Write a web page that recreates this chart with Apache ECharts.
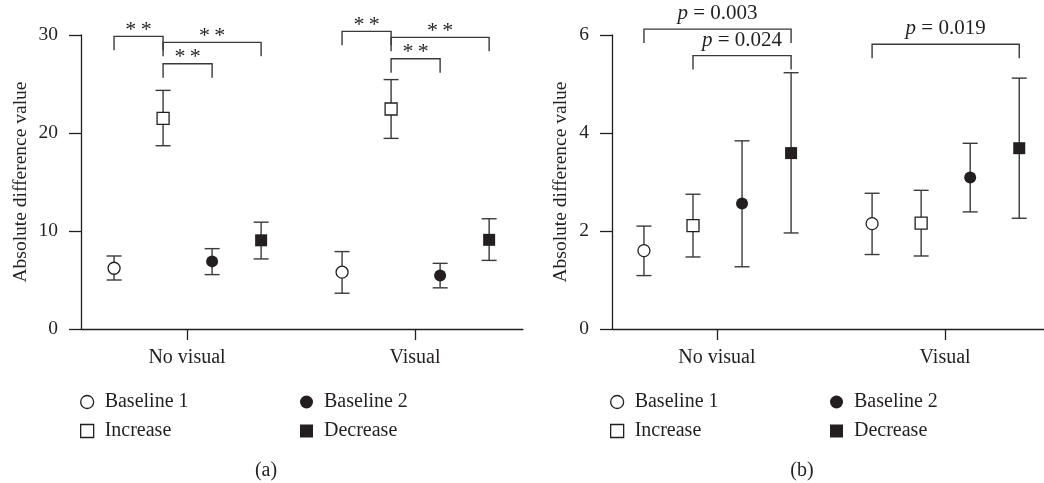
<!DOCTYPE html>
<html>
<head>
<meta charset="utf-8">
<title>Absolute difference value</title>
<script src="https://cdn.jsdelivr.net/npm/echarts@6/dist/echarts.min.js"></script>
<style>html, body { margin: 0; padding: 0; background: #fff; }</style>
</head>
<body>
<div id="main" style="width:1044px;height:483px;"></div>
<script>
// categories and series
var groups = ['No visual', 'Visual']
var seriesNames = ['Baseline 1', 'Increase', 'Baseline 2', 'Decrease']

// panel (a): [mean, lower, upper] for No visual, Visual
var aBaseline1 = [[6.2, 5.0, 7.45], [5.8, 3.65, 7.9]]
var aIncrease = [[21.5, 18.7, 24.35], [22.45, 19.45, 25.45]]
var aBaseline2 = [[6.9, 5.55, 8.2], [5.45, 4.2, 6.7]]
var aDecrease = [[9.05, 7.15, 10.9], [9.1, 7.0, 11.25]]

// panel (b)
var bBaseline1 = [[1.6, 1.09, 2.1], [2.15, 1.52, 2.77]]
var bIncrease = [[2.11, 1.47, 2.75], [2.16, 1.49, 2.83]]
var bBaseline2 = [[2.56, 1.27, 3.84], [3.09, 2.39, 3.79]]
var bDecrease = [[3.59, 1.96, 5.23], [3.69, 2.26, 5.12]]

// significance brackets: [group, from series, to series, bracket top, label]
var aSig = [
    [0, 0, 1, 29.86, '**'], [0, 1, 3, 29.25, '**'], [0, 1, 2, 27.07, '**'],
    [1, 0, 1, 30.37, '**'], [1, 1, 3, 29.76, '**'], [1, 1, 2, 27.58, '**']
]
var bSig = [
    [0, 0, 3, 6.12, 'p = 0.003'], [0, 1, 3, 5.58, 'p = 0.024'], [1, 0, 3, 5.81, 'p = 0.019']
]

// y axis ticks
var aTicks = [0, 10, 20, 30]
var bTicks = [0, 2, 4, 6]

var INK = '#231f20'
var LINE = '#3a3a3a'
var FONT = 'Liberation Serif'
var FS = 20
// horizontal place of each series inside a group
var offsets = [-0.64, -0.21, 0.22, 0.65]
var symbols = ['circle', 'rect', 'circle', 'rect']
var filled = [false, false, true, true]

var xPos = function(g, s) {
    return g * 2 + 1 + offsets[s]
}

var markerStyle = function(s) {
    if (filled[s]) {
        return { color: INK, opacity: 1 }
    }
    return { color: '#fff', borderColor: INK, borderWidth: 1.3, opacity: 1 }
}

var errorItem = function(params, api) {
    var x = api.value(0)
    var p1 = api.coord([x, api.value(1)])
    var p2 = api.coord([x, api.value(2)])
    var cap = 7.5
    var st = { stroke: LINE, lineWidth: 1.4 }
    return {
        type: 'group',
        children: [
            { type: 'line', shape: { x1: p1[0], y1: p1[1], x2: p2[0], y2: p2[1] }, style: st },
            { type: 'line', shape: { x1: p1[0] - cap, y1: p1[1], x2: p1[0] + cap, y2: p1[1] }, style: st },
            { type: 'line', shape: { x1: p2[0] - cap, y1: p2[1], x2: p2[0] + cap, y2: p2[1] }, style: st }
        ]
    }
}

var bracketRenderer = function(sig, textGap, fontSize) {
    return function(params, api) {
        var a = api.coord([api.value(0), api.value(2)])
        var b = api.coord([api.value(1), api.value(2)])
        var leg = 14
        var label = sig[params.dataIndex][4]
        var text
        if (label.indexOf('p') === 0) {
            text = '{i|p}' + label.slice(1)
        } else {
            // stars drawn with a thin gap, as in the figure
            text = label.split('').join('\u2009')
        }
        return {
            type: 'group',
            children: [
                {
                    type: 'polyline',
                    shape: { points: [[a[0], a[1] + leg], [a[0], a[1]], [b[0], b[1]], [b[0], b[1] + leg]] },
                    style: { stroke: LINE, fill: 'none', lineWidth: 1.4 }
                },
                {
                    type: 'text',
                    x: (a[0] + b[0]) / 2,
                    y: a[1] - textGap,
                    style: {
                        text: text,
                        fill: INK,
                        fontFamily: FONT,
                        fontSize: fontSize,
                        align: 'center',
                        verticalAlign: 'bottom',
                        rich: { i: { fontStyle: 'italic', fontFamily: FONT, fontSize: fontSize, fill: INK } }
                    }
                }
            ]
        }
    }
}

var buildSeries = function(panel, lists, sig, textGap, fontSize) {
    var out = []
    var bars = []
    lists.forEach(function(list, s) {
        list.forEach(function(d, g) {
            bars.push([xPos(g, s), d[1], d[2]])
        })
    })
    out.push({
        type: 'custom',
        xAxisIndex: panel,
        yAxisIndex: panel,
        renderItem: errorItem,
        encode: { x: 0, y: [1, 2] },
        data: bars,
        z: 1,
        silent: true
    })
    lists.forEach(function(list, s) {
        out.push({
            name: seriesNames[s],
            type: 'scatter',
            xAxisIndex: panel,
            yAxisIndex: panel,
            symbol: symbols[s],
            symbolSize: 12,
            itemStyle: markerStyle(s),
            z: 3,
            data: list.map(function(d, g) { return [xPos(g, s), d[0]] })
        })
    })
    out.push({
        type: 'custom',
        xAxisIndex: panel,
        yAxisIndex: panel,
        clip: false,
        renderItem: bracketRenderer(sig, textGap, fontSize),
        encode: { x: [0, 1], y: 2 },
        data: sig.map(function(r) { return [xPos(r[0], r[1]), xPos(r[0], r[2]), r[3]] }),
        z: 2,
        silent: true
    })
    return out
}

var makeX = function(index, min, max) {
    return {
        type: 'value',
        gridIndex: index,
        min: min,
        max: max,
        splitLine: { show: false },
        axisLine: { lineStyle: { color: INK, width: 1.3 } },
        axisTick: { customValues: [1, 3], length: 11, lineStyle: { color: INK, width: 1.3 } },
        axisLabel: {
            customValues: [1, 3],
            margin: 19,
            color: INK,
            fontFamily: FONT,
            fontSize: FS,
            formatter: function(v) { return groups[v === 1 ? 0 : 1] }
        }
    }
}

var makeY = function(index, ticks, gap) {
    return {
        type: 'value',
        gridIndex: index,
        min: ticks[0],
        max: ticks[ticks.length - 1],
        interval: ticks[1] - ticks[0],
        name: 'Absolute difference value',
        nameLocation: 'middle',
        nameGap: gap,
        nameTextStyle: { color: INK, fontFamily: FONT, fontSize: 19.5 },
        splitLine: { show: false },
        axisLine: { show: true, lineStyle: { color: INK, width: 1.3 } },
        axisTick: { show: true, length: 12, lineStyle: { color: INK, width: 1.3 } },
        axisLabel: { margin: 23, color: INK, fontFamily: FONT, fontSize: 19.5 }
    }
}

var makeLegend = function(left, names) {
    return {
        orient: 'vertical',
        left: left,
        top: 392,
        padding: 0,
        itemGap: 9,
        itemWidth: 13,
        itemHeight: 13,
        selectedMode: false,
        textStyle: { color: INK, fontFamily: FONT, fontSize: FS, padding: [0, 0, 0, 6] },
        data: names.map(function(n) {
            var s = seriesNames.indexOf(n)
            return { name: n, icon: symbols[s], itemStyle: markerStyle(s) }
        })
    }
}

var myChart = echarts.init(document.getElementById('main'))

var option = {
    animation: false,
    backgroundColor: '#fff',
    grid: [
        { left: 81, top: 35, width: 442, height: 294 },
        { left: 612, top: 35, width: 432, height: 294 }
    ],
    xAxis: [makeX(0, 0.07, 3.947), makeX(1, 0.08, 3.867)],
    yAxis: [makeY(0, aTicks, 50), makeY(1, bTicks, 41)],
    legend: [
        makeLegend(80, ['Baseline 1', 'Increase']),
        makeLegend(300, ['Baseline 2', 'Decrease']),
        makeLegend(610, ['Baseline 1', 'Increase']),
        makeLegend(830, ['Baseline 2', 'Decrease'])
    ],
    graphic: [
        { type: 'text', x: 266, y: 471, style: { text: '(a)', fill: INK, font: FS + 'px ' + FONT, align: 'center', verticalAlign: 'middle' } },
        { type: 'text', x: 802, y: 471, style: { text: '(b)', fill: INK, font: FS + 'px ' + FONT, align: 'center', verticalAlign: 'middle' } }
    ],
    series: []
        .concat(buildSeries(0, [aBaseline1, aIncrease, aBaseline2, aDecrease], aSig, -5, 22))
        .concat(buildSeries(1, [bBaseline1, bIncrease, bBaseline2, bDecrease], bSig, 5, 21))
}

myChart.setOption(option)
</script>
</body>
</html>
